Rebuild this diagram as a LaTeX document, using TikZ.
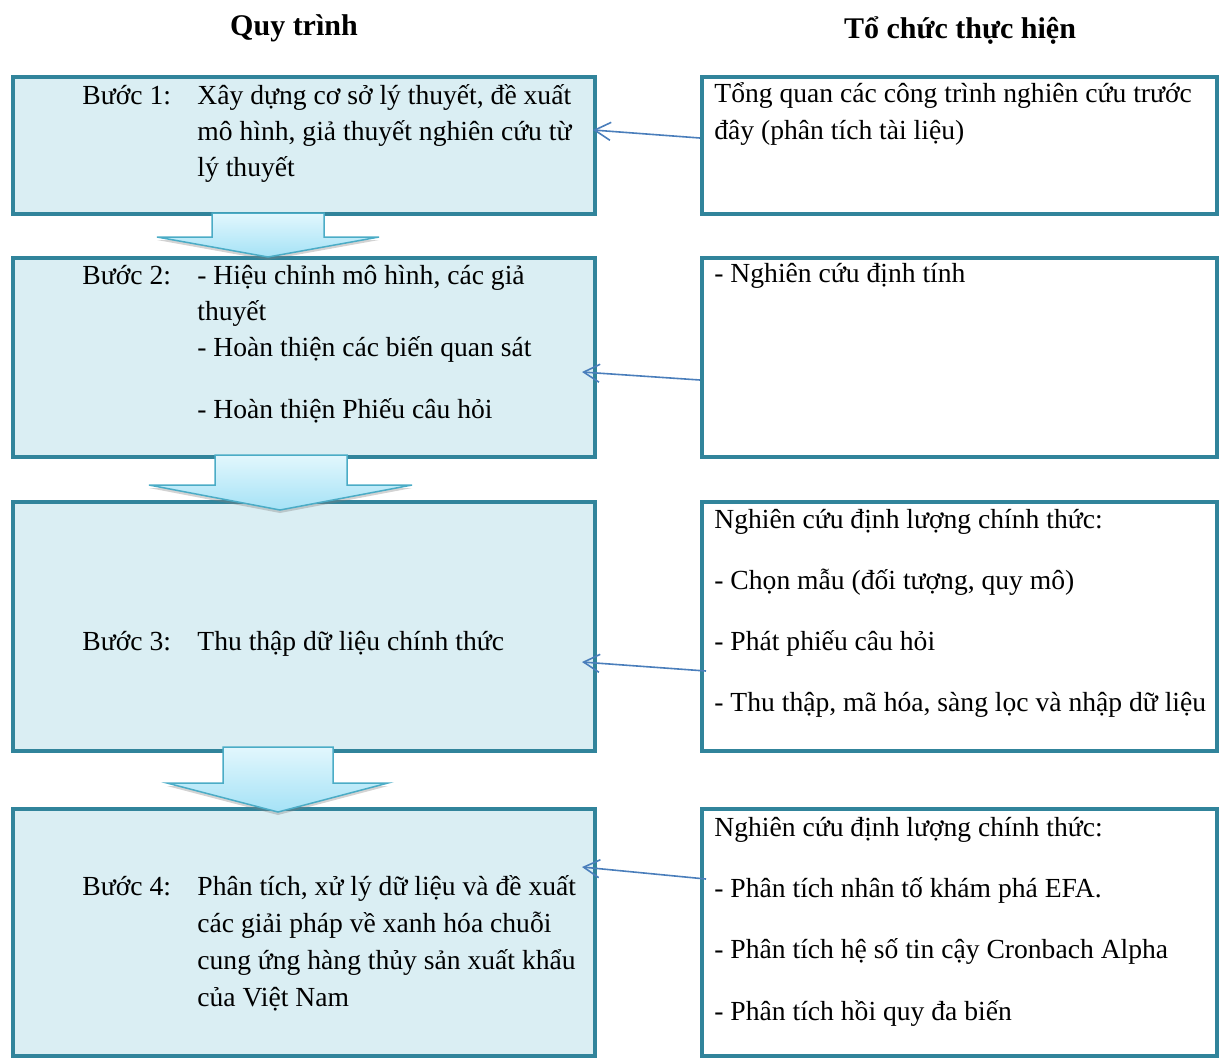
\documentclass[tikz,border=0pt]{standalone}
\usepackage{fontspec}
\setmainfont{Liberation Serif}
\usetikzlibrary{arrows.meta,shadows}

\definecolor{boxfill}{HTML}{DAEEF3}
\definecolor{boxline}{HTML}{31849B}
\definecolor{linkblue}{HTML}{4A7EBB}
\definecolor{arrtop}{HTML}{E2F7FD}
\definecolor{arrbot}{HTML}{A5E2F6}
\definecolor{arrline}{HTML}{4BACC6}

\tikzset{
  stepbox/.style={draw=boxline, line width=1.75pt, fill=boxfill, anchor=north west,
    inner sep=0pt, minimum width=291pt},
  workbox/.style={draw=boxline, line width=1.75pt, fill=white, anchor=north west,
    inner sep=0pt, minimum width=257.5pt},
  txt/.style={anchor=base west, inner sep=0pt, font=\fontsize{13.8}{18}\selectfont},
  head/.style={anchor=base, inner sep=0pt, font=\fontsize{15}{18}\selectfont\bfseries},
  link/.style={draw=linkblue, line width=0.8pt, -{Straight Barb[length=8pt,width=9pt]}},
  down/.style={draw=arrline, line width=0.75pt, top color=arrtop, bottom color=arrbot,
    drop shadow={shadow xshift=0pt, shadow yshift=-1.5pt, opacity=0.35}}
}

\begin{document}
\begin{tikzpicture}[x=0.5pt,y=-0.5pt]

    \useasboundingbox (0,0) rectangle (1219,1057);

    % Headings
    \node[head] (hq) at (294,35) {Quy trình};
    \node[head] (ht) at (960,38) {Tổ chức thực hiện};

    % Steps
    \node[stepbox, minimum height=68.5pt] (b1) at (11,75) {};
    \node[stepbox, minimum height=99.5pt] (b2) at (11,256) {};
    \node[stepbox, minimum height=124.5pt] (b3) at (11,500) {};
    \node[stepbox, minimum height=123.5pt] (b4) at (11,807) {};

    % Work boxes
    \node[workbox, minimum height=68.5pt] (r1) at (700,75) {};
    \node[workbox, minimum height=99.5pt] (r2) at (700,256) {};
    \node[workbox, minimum height=124.5pt] (r3) at (700,500) {};
    \node[workbox, minimum height=123.5pt] (r4) at (700,807) {};

    % Down arrows
    \path[down] (212,213) -- (324,213) -- (324,237) -- (379,237) -- (268,257)
        -- (157,237) -- (212,237) -- cycle;
    \path[down] (215,455) -- (347,455) -- (347,485) -- (412,485) -- (280,510)
        -- (149,485) -- (215,485) -- cycle;
    \path[down] (223,747) -- (333,747) -- (333,783) -- (388,783) -- (278,812)
        -- (167,783) -- (223,783) -- cycle;

    % Step 1
    \node[txt] (s1) at (82,104) {Bước 1:};
    \foreach \y/\t [count=\i] in {104/{Xây dựng cơ sở lý thuyết, đề xuất},
        140/{mô hình, giả thuyết nghiên cứu từ}, 176/{lý thuyết}}
        \node[txt] (s1l\i) at (197,\y) {\t};

    % Step 2
    \node[txt] (s2) at (82,284) {Bước 2:};
    \foreach \y/\t [count=\i] in {284/{- Hiệu chỉnh mô hình, các giả},
        320/{thuyết}, 356/{- Hoàn thiện các biến quan sát},
        418/{- Hoàn thiện Phiếu câu hỏi}}
        \node[txt] (s2l\i) at (197,\y) {\t};

    % Step 3
    \node[txt] (s3) at (82,650) {Bước 3:};
    \node[txt] (s3l1) at (197,650) {Thu thập dữ liệu chính thức};

    % Step 4
    \node[txt] (s4) at (82,895) {Bước 4:};
    \foreach \y/\t [count=\i] in {895/{Phân tích, xử lý dữ liệu và đề xuất},
        932/{các giải pháp về xanh hóa chuỗi},
        969/{cung ứng hàng thủy sản xuất khẩu}, 1006/{của Việt Nam}}
        \node[txt] (s4l\i) at (197,\y) {\t};

    % Work texts
    \node[txt] (w1l1) at (714,102) {Tổng quan các công trình nghiên cứu trước};
    \node[txt] (w1l2) at (714,139) {đây (phân tích tài liệu)};
    \node[txt] (w2l1) at (714,282) {- Nghiên cứu định tính};
    \foreach \y/\t [count=\i] in {528/{Nghiên cứu định lượng chính thức:},
        589/{- Chọn mẫu (đối tượng, quy mô)}, 650/{- Phát phiếu câu hỏi},
        711/{- Thu thập, mã hóa, sàng lọc và nhập dữ liệu}}
        \node[txt] (w3l\i) at (714,\y) {\t};
    \foreach \y/\t [count=\i] in {836/{Nghiên cứu định lượng chính thức:},
        897/{- Phân tích nhân tố khám phá EFA.},
        958/{- Phân tích hệ số tin cậy Cronbach Alpha},
        1020/{- Phân tích hồi quy đa biến}}
        \node[txt] (w4l\i) at (714,\y) {\t};

    % Links
    \coordinate (f1) at (700,138);
    \coordinate (t1) at (593,130);
    \coordinate (f2) at (700,380);
    \coordinate (t2) at (582,372);
    \coordinate (f3) at (706,671);
    \coordinate (t3) at (582,662);
    \coordinate (f4) at (706,879);
    \coordinate (t4) at (582,867);
    \draw[link] (f1) -- (t1);
    \draw[link] (f2) -- (t2);
    \draw[link] (f3) -- (t3);
    \draw[link] (f4) -- (t4);

\end{tikzpicture}
\end{document}
